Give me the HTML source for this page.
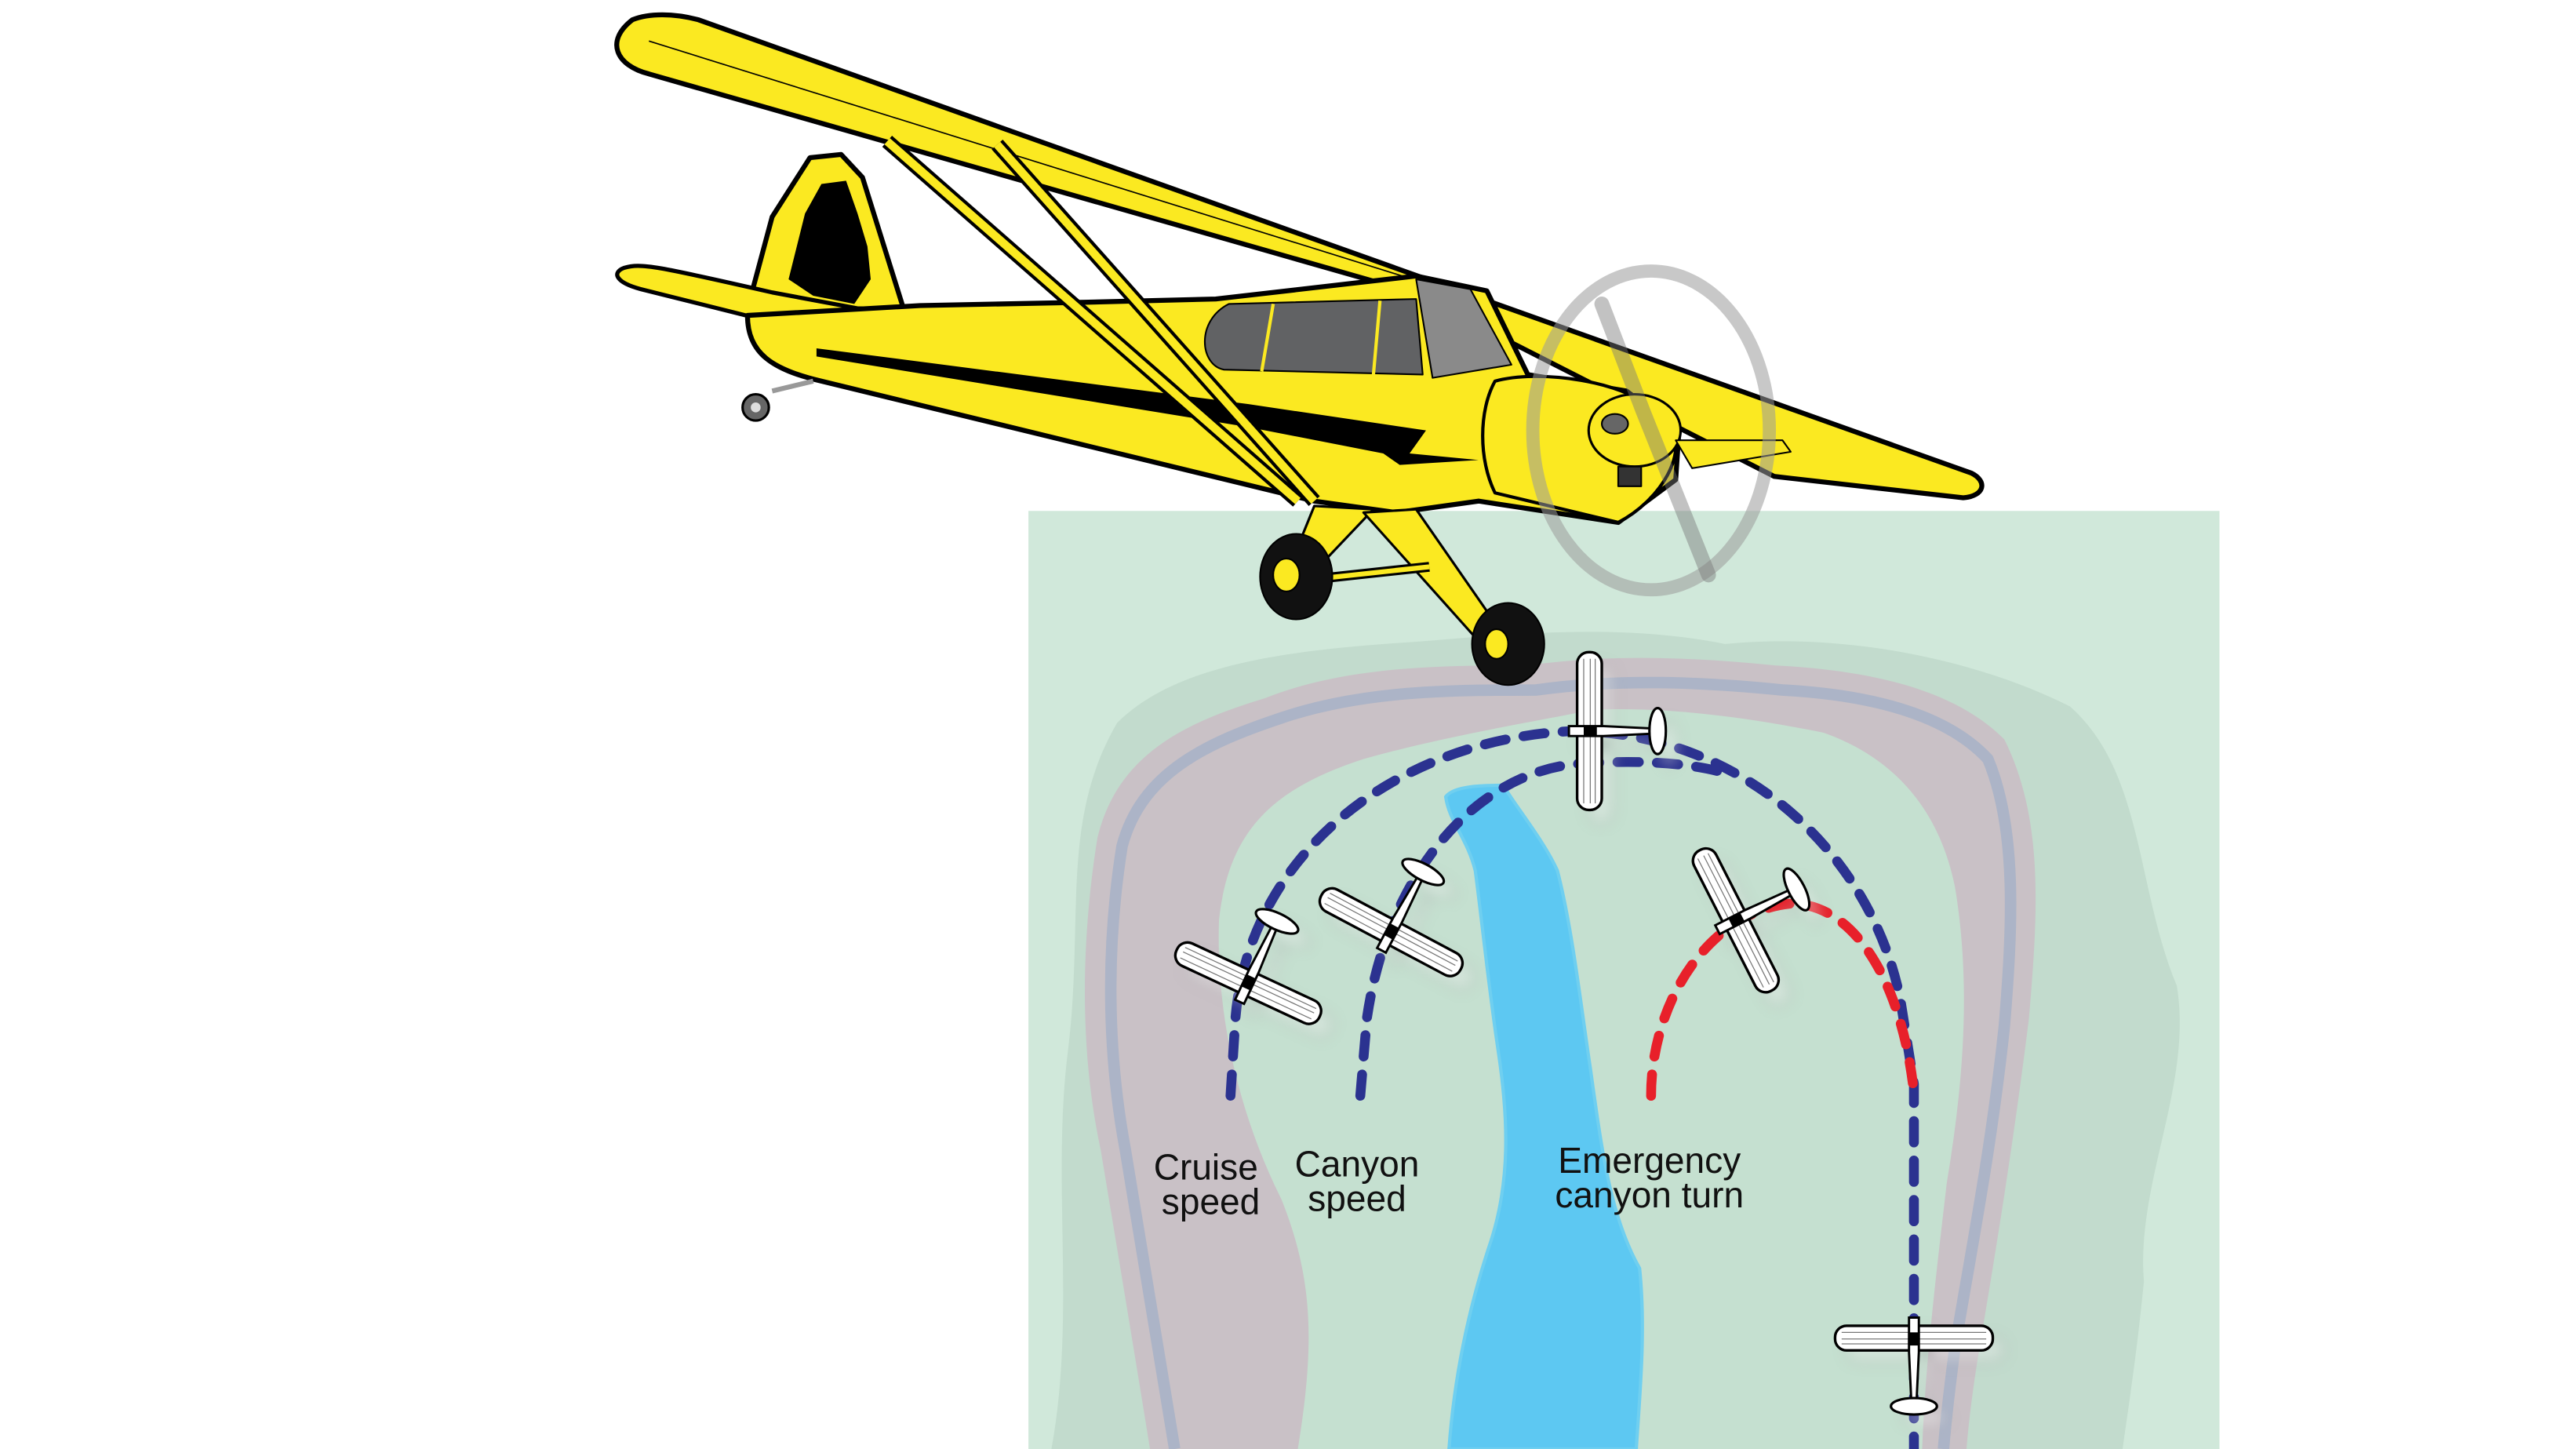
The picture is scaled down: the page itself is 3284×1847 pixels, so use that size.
<!DOCTYPE html>
<html><head><meta charset="utf-8"><style>
html,body{margin:0;padding:0;background:#fff;}
svg{display:block;}
</style></head><body>
<svg width="3284" height="1847" viewBox="0 0 1568 882" preserveAspectRatio="none" xmlns="http://www.w3.org/2000/svg">
<defs>
<filter id="sh" x="-30%" y="-30%" width="160%" height="160%"><feGaussianBlur stdDeviation="4"/></filter>
<g id="pl">
  <rect x="-48" y="-8" width="96" height="15" rx="7" fill="#fff" stroke="#000" stroke-width="1.6"/>
  <path d="M-44,-4 H44 M-44,0 H44 M-44,3 H44" stroke="#777" stroke-width="0.6"/>
  <path d="M-3,-13 L3,-13 L3,8 L1.5,40 L-1.5,40 L-3,8Z" fill="#fff" stroke="#000" stroke-width="1.4"/>
  <ellipse cx="0" cy="41" rx="14" ry="5" fill="#fff" stroke="#000" stroke-width="1.5"/>
  <rect x="-3" y="-4" width="6" height="8" fill="#000"/>
</g>
</defs>

<!-- map -->
<rect x="626" y="311" width="725" height="571" fill="#d0e8da"/>
<path d="M640,882 C655,800 640,720 650,640 C660,560 645,500 680,440 C720,400 800,395 870,390 C930,385 990,380 1050,392 C1120,385 1200,400 1260,430 C1305,470 1300,540 1325,600 C1335,660 1300,720 1305,780 C1300,830 1295,860 1292,882 Z" fill="#c2dbcd"/>
<path d="M700,882 C690,820 680,760 670,700 C655,630 660,560 668,510 C680,460 720,440 770,425 C820,405 880,405 930,405 C980,398 1030,400 1080,405 C1140,408 1190,420 1220,450 C1245,500 1240,560 1235,620 C1225,700 1215,760 1205,820 C1200,850 1198,870 1197,882 Z" fill="#c9c1c6"/>
<path d="M715,882 C705,820 695,760 685,700 C672,630 675,565 683,515 C695,470 735,452 780,437 C830,420 885,420 935,420 C985,413 1035,415 1085,420 C1140,423 1185,435 1210,462 C1228,505 1225,565 1220,625 C1212,700 1200,760 1190,820 C1186,850 1184,870 1183,882" fill="none" stroke="#a9b3c7" stroke-width="7" opacity="0.9"/>
<path d="M790,882 C800,820 800,780 780,730 C755,680 740,620 742,560 C748,505 775,480 830,462 C880,448 930,440 970,432 C1020,430 1070,438 1110,446 C1150,460 1180,490 1190,540 C1200,600 1195,660 1185,720 C1178,780 1172,830 1170,882 Z" fill="#c5e0d0"/>

<!-- river -->
<path d="M880,485 C885,478 905,478 915,478 C922,490 940,512 948,530 C957,565 962,610 968,650 C975,700 980,740 998,772 C1002,810 998,850 996,882 L882,882 C885,840 893,800 906,760 C920,720 918,680 912,640 C906,600 902,560 898,530 C893,510 882,500 880,485 Z" fill="#5dc8f2" stroke="#6fcff0" stroke-width="2"/>

<!-- paths -->
<g fill="none" stroke-width="6" stroke-linecap="round" stroke-dasharray="13 11">
<path d="M749,667 L752,620 C760,520 850,450 957,445 C1060,445 1140,520 1157,610 L1165,660 L1165,882" stroke="#2b3290"/>
<path d="M828,667 L832,620 C845,530 900,470 960,465 C1000,462 1030,465 1048,470" stroke="#2b3290"/>
<path d="M1005,667 C1005,610 1040,555 1090,550 C1130,550 1158,600 1165,665" stroke="#e8202a"/>
</g>

<!-- small planes -->
<g>
<use href="#pl" transform="translate(975,453) rotate(-90)" filter="url(#sh)" opacity="0.35"/>
<use href="#pl" transform="translate(968,445) rotate(-90)"/>
<use href="#pl" transform="translate(1172,822)" filter="url(#sh)" opacity="0.35"/>
<use href="#pl" transform="translate(1165,815)"/>
<use href="#pl" transform="translate(767,606) rotate(205)" filter="url(#sh)" opacity="0.35"/>
<use href="#pl" transform="translate(760,598) rotate(205)"/>
<use href="#pl" transform="translate(854,575) rotate(208)" filter="url(#sh)" opacity="0.35"/>
<use href="#pl" transform="translate(847,567) rotate(208)"/>
<use href="#pl" transform="translate(1064,568) rotate(243)" filter="url(#sh)" opacity="0.35"/>
<use href="#pl" transform="translate(1057,560) rotate(243)"/>
</g>

<!-- labels -->
<g font-family="Liberation Sans, sans-serif" font-size="22" fill="#111" text-anchor="middle">
<text x="734" y="718">Cruise</text><text x="737" y="739">speed</text>
<text x="826" y="716">Canyon</text><text x="826" y="737">speed</text>
<text x="1004" y="714">Emergency</text><text x="1004" y="735">canyon turn</text>
</g>

<!-- big plane -->
<g stroke="#000" stroke-linejoin="round">
<!-- tail fin -->
<path d="M455,188 L470,132 L493,96 L512,94 L525,108 L550,188 Z" fill="#fbe921" stroke-width="3"/>
<g fill="#000" stroke="none">
<path d="M500,112 L515,110 L522,130 L528,150 L530,170 L520,185 L495,180 L480,170 L485,150 L490,130Z"/>
</g>
<!-- wing -->
<path d="M385,12 C395,8 410,8 425,12 L1200,288 C1210,293 1208,302 1195,303 L1080,290 L860,178 L395,45 C375,40 368,25 385,12 Z" fill="#fbe921" stroke-width="3"/>
<path d="M395,25 L860,170" stroke-width="0.8" fill="none"/>
<!-- horizontal stab -->
<path d="M380,163 C390,160 400,162 470,178 L545,192 L543,203 L470,196 L390,176 C375,172 372,166 380,163 Z" fill="#fbe921" stroke-width="2.5"/>
<!-- fuselage -->
<path d="M455,192 L560,186 L660,184 L740,182 L862,168 L905,177 L930,228 L990,238 L1022,262 L1020,292 L985,318 L900,305 L850,312 L800,305 L500,232 C470,225 455,215 455,192 Z" fill="#fbe921" stroke-width="3"/>
<!-- windows -->
<path d="M748,185 L862,182 L866,228 L745,225 C730,222 728,195 748,185 Z" fill="#616264" stroke="#000" stroke-width="1"/>
<path d="M862,170 L895,176 L920,222 L872,230 Z" fill="#8a8a8a" stroke-width="1"/>
<path d="M775,185 L768,226 M840,183 L836,228" stroke="#fbe921" stroke-width="2"/>
<!-- stripe -->
<path d="M497,212 L760,246 L868,262 L858,276 L900,280 L852,283 L842,276 L760,260 L497,217 Z" fill="#000" stroke="none"/>
<!-- cowl -->
<path d="M910,232 C935,225 990,230 1015,255 C1030,275 1010,305 985,318 L910,300 C900,280 900,250 910,232 Z" fill="#fbe921" stroke-width="2"/>
<ellipse cx="995" cy="262" rx="28" ry="22" fill="#fbe921" stroke-width="1.5"/>
<ellipse cx="983" cy="258" rx="8" ry="6" fill="#666" stroke-width="1"/>
<rect x="985" y="284" width="14" height="12" fill="#333" stroke-width="1"/>
<!-- right wing stub -->
<path d="M1020,268 L1085,268 L1090,275 L1030,285Z" fill="#fbe921" stroke-width="1"/>
<!-- struts -->
<path d="M540,86 L790,305" stroke="#000" stroke-width="9" fill="none"/>
<path d="M540,86 L790,305" stroke="#fbe921" stroke-width="5" fill="none"/>
<path d="M607,88 L800,305" stroke="#000" stroke-width="9" fill="none"/>
<path d="M607,88 L800,305" stroke="#fbe921" stroke-width="5" fill="none"/>
<!-- gear -->
<path d="M800,308 L836,310 L798,350 L785,345 Z" fill="#fbe921" stroke-width="1.5"/>
<path d="M830,312 L862,310 L912,382 L898,388 Z" fill="#fbe921" stroke-width="1.5"/>
<path d="M805,352 L870,345" stroke="#000" stroke-width="6"/>
<path d="M805,352 L870,345" stroke="#fbe921" stroke-width="3"/>
<ellipse cx="789" cy="351" rx="22" ry="26" fill="#111" stroke-width="1"/>
<ellipse cx="783" cy="350" rx="8" ry="10" fill="#fbe921" stroke-width="1"/>
<ellipse cx="918" cy="392" rx="22" ry="25" fill="#111" stroke-width="1"/>
<ellipse cx="911" cy="392" rx="7" ry="9" fill="#fbe921" stroke-width="1"/>
<!-- tailwheel -->
<path d="M470,238 L495,232" stroke="#999" stroke-width="3"/>
<circle cx="460" cy="248" r="8" fill="#666" stroke-width="1.5"/>
<circle cx="460" cy="248" r="3" fill="#ddd" stroke="none"/>
</g>
<!-- propeller -->
<ellipse cx="1005" cy="262" rx="72" ry="97" fill="none" stroke="#9a9a9a" stroke-width="8" opacity="0.55"/>
<path d="M975,185 L1000,250 L1040,350" stroke="#777" stroke-width="9" opacity="0.45" fill="none" stroke-linecap="round"/>
</svg>
</body></html>
